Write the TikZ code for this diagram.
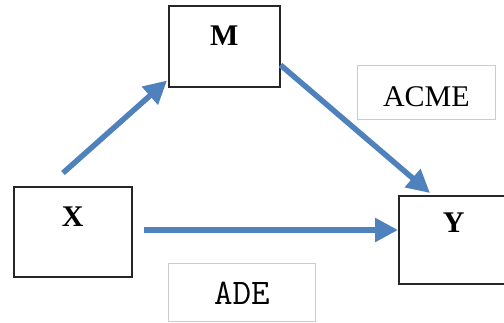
\documentclass[tikz,border=0pt]{standalone}
\usepackage{fontspec}
\setmainfont{Liberation Serif}
\usetikzlibrary{calc}
\usetikzlibrary{positioning}
\usetikzlibrary{arrows.meta}
\definecolor{pathblue}{RGB}{79,129,189}
\tikzstyle{varbox} = [rectangle, anchor=north west,
inner sep=0pt, text height=40pt,
draw=black!85, line width=1.5pt, fill=white,
font=\fontsize{30}{36}\selectfont\bfseries]
\tikzstyle{effectbox} = [rectangle, anchor=north west,
inner sep=0pt, text height=41pt,
draw=black!20, line width=0.8pt, fill=white]
\tikzstyle{effectarrow} = [line width=5.5pt, pathblue, -{Triangle[length=23pt,width=23pt]}]

\begin{document}
\begin{tikzpicture}[x=1pt, y=-1pt]
    \clip (0,0) rectangle (504,322);
    \fill[white] (0,0) rectangle (504,322);
    % variables
    \node[varbox, minimum width=111pt, text depth=41pt] (M) at (168,5) {M};
    \node[varbox, minimum width=118pt, text depth=50pt] (X) at (13,186) {X};
    \node[varbox, minimum width=110pt, text height=37pt, text depth=51pt] (Y) at (398,195) {Y};
    % effect labels
    \node[effectbox, minimum width=138pt, text depth=13pt,
          font=\fontsize{30}{36}\selectfont] (acme) at (357,65) {ACME};
    \node[effectbox, minimum width=147pt, text depth=17pt,
          font=\fontsize{36}{40}\ttfamily] (ade) at (168,263) {ADE};
    % paths
    \coordinate (xmtail) at ($(X.north west)+(50,-13)$);
    \coordinate (mytail) at ($(M.north east)+(0,60)$);
    \coordinate (xytail) at ($(X.north east)+(11,44)$);
    \draw[effectarrow] (xmtail) -- ($(M.south west)+(-1,-7)$);
    \draw[effectarrow] (mytail) -- ($(Y.north west)+(32,-2)$);
    \draw[effectarrow] (xytail) -- (Y.west |- xytail);
\end{tikzpicture}
\end{document}
